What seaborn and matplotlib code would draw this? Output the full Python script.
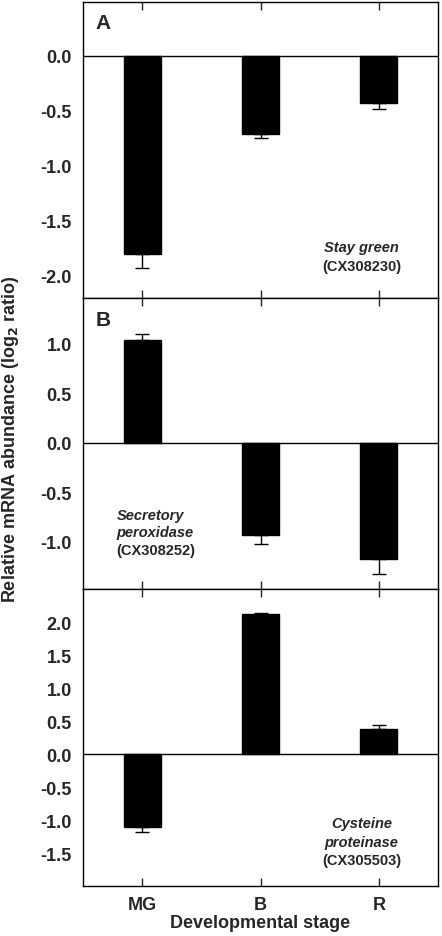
import matplotlib
matplotlib.use("Agg")
from matplotlib import pyplot as plt
import seaborn as sns
import pandas as pd

stages = ["MG", "B", "R"]

stay_green = [-1.80, -0.71, -0.43]
stay_green_err = [0.13, 0.04, 0.05]

peroxidase = [1.04, -0.93, -1.18]
peroxidase_err = [0.06, 0.10, 0.15]

proteinase = [-1.10, 2.13, 0.38]
proteinase_err = [0.08, 0.01, 0.06]

sns.set_style("white")
plt.rcParams['font.family'] = ['Liberation Sans', 'DejaVu Sans']
plt.rcParams['font.weight'] = 'bold'
plt.rcParams['axes.unicode_minus'] = False

fig = plt.figure(figsize=(4.42, 9.37), dpi=100)
W, H = 442, 937
left, right = 83, 438
edges = [3, 299, 590, 887]

panels = [
    (stay_green, stay_green_err, (-2.2, 0.49), [0.0, -0.5, -1.0, -1.5, -2.0], "A"),
    (peroxidase, peroxidase_err, (-1.48, 1.46), [1.0, 0.5, 0.0, -0.5, -1.0], "B"),
    (proteinase, proteinase_err, (-2.0, 2.51), [2.0, 1.5, 1.0, 0.5, 0.0, -0.5, -1.0, -1.5], None),
]

axes = []
for i, (vals, errs, ylim, ticks, letter) in enumerate(panels):
    top, bot = edges[i], edges[i + 1]
    ax = fig.add_axes([left / W, 1 - bot / H, (right - left) / W, (bot - top) / H])
    df = pd.DataFrame({"stage": stages, "value": vals})
    sns.barplot(data=df, x="stage", y="value", color="black", width=0.31,
                saturation=1, edgecolor="black", ax=ax)
    lower = [e if v < 0 else 0 for v, e in zip(vals, errs)]
    upper = [e if v >= 0 else 0 for v, e in zip(vals, errs)]
    ax.errorbar(range(len(stages)), vals, yerr=[lower, upper], fmt="none",
                ecolor="black", elinewidth=1.0, capsize=5, capthick=1.0)
    ax.axhline(0, color="black", lw=1.0)
    ax.set_xlim(-0.5, 2.5)
    ax.set_ylim(*ylim)
    ax.set_yticks(ticks)
    ax.set_yticklabels([f"{t:.1f}" for t in ticks], fontsize=13, fontweight="bold")
    ax.tick_params(axis="y", length=0, pad=8)
    ax.tick_params(axis="x", direction="in", top=True, bottom=True, length=6, width=1.0)
    ax.set_xlabel("")
    ax.set_ylabel("")
    for s in ax.spines.values():
        s.set_visible(True)
        s.set_color("black")
        s.set_linewidth(1.0)
    if letter:
        ax.text(0.035, 0.93 if letter == "A" else 0.925, letter, transform=ax.transAxes,
                fontsize=15, fontweight="bold", ha="left", va="center")
    if i < 2:
        ax.set_xticklabels([])
    else:
        ax.set_xticklabels(stages, fontsize=13, fontweight="bold")
        ax.tick_params(axis="x", pad=7)
    axes.append(ax)

axA, axB, axC = axes
note = dict(fontsize=10.5, fontweight="bold", va="center")
axA.text(0.785, 0.172, "Stay green", transform=axA.transAxes, ha="center", style="italic", **note)
axA.text(0.785, 0.109, "(CX308230)", transform=axA.transAxes, ha="center", **note)

axB.text(0.095, 0.255, "Secretory", transform=axB.transAxes, ha="left", style="italic", **note)
axB.text(0.095, 0.195, "peroxidase", transform=axB.transAxes, ha="left", style="italic", **note)
axB.text(0.095, 0.135, "(CX308252)", transform=axB.transAxes, ha="left", **note)

axC.text(0.785, 0.211, "Cysteine", transform=axC.transAxes, ha="center", style="italic", **note)
axC.text(0.785, 0.149, "proteinase", transform=axC.transAxes, ha="center", style="italic", **note)
axC.text(0.785, 0.0886, "(CX305503)", transform=axC.transAxes, ha="center", **note)

axC.set_xlabel("Developmental stage", fontsize=13, fontweight="bold", labelpad=1)

fig.text(0.023, 1 - 439 / H, "Relative mRNA abundance (log$_\\mathbf{2}$ ratio)", rotation=90,
         ha="center", va="center", fontsize=13, fontweight="bold")

fig.savefig("out.png", dpi=100)
plt.close()
